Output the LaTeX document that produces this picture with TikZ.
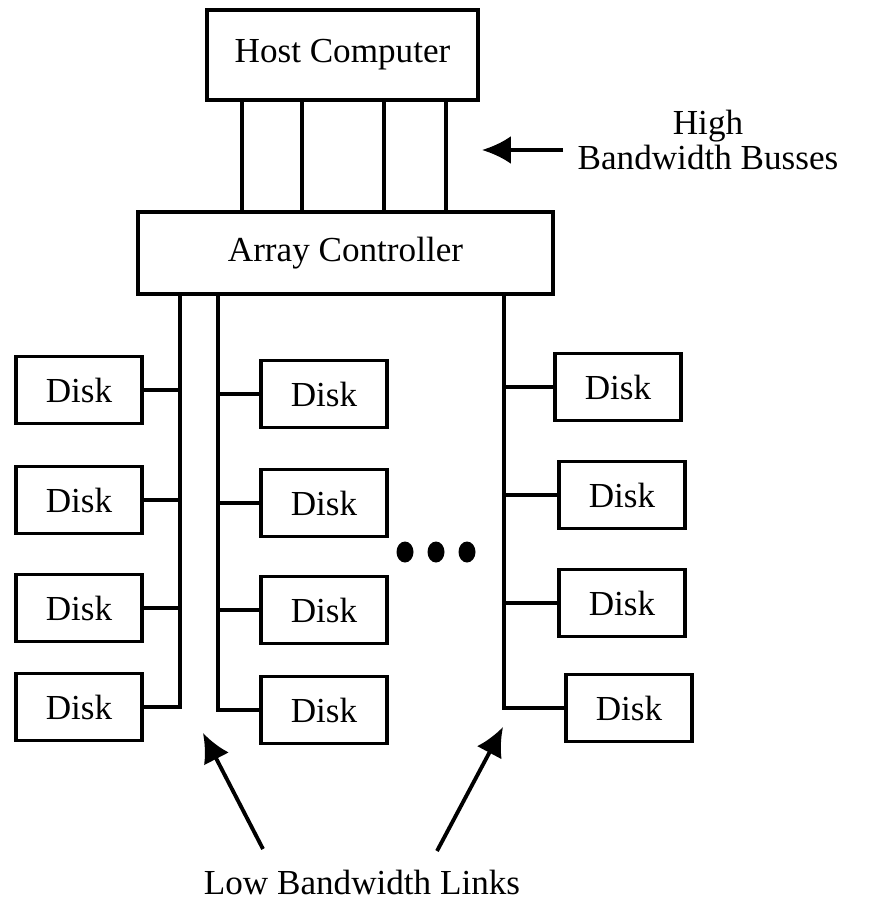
\documentclass[tikz,border=0pt]{standalone}
\usepackage{fontspec}
\setmainfont{Liberation Serif}
\usetikzlibrary{arrows.meta}

\tikzset{
    unit/.style={draw, line width=2.1pt, inner sep=0pt, minimum width=2.52cm, minimum height=1.34cm},
    link/.style={line width=2pt},
    pointer/.style={line width=2.2pt, -{Latex[length=0.58cm, width=0.56cm]}}
}

\begin{document}
\begin{tikzpicture}[x=0.02cm, y=-0.02cm, font=\fontsize{20}{19.5}\selectfont]
        \useasboundingbox (0,0) rectangle (875,903);

        \node[unit, minimum width=5.42cm, minimum height=1.8cm] (host) at (342.5,55) {Host Computer};
        \node[unit, minimum width=8.3cm, minimum height=1.64cm] (ctrl) at (345.5,253) {Array Controller};

        \foreach \x [count=\i] in {242, 302, 384, 446}
        {
            \coordinate (b\i) at (\x,0);
            \draw[link] (b\i |- host.south) -- (b\i |- ctrl.north);
        }

        \foreach \y [count=\i] in {390, 500, 608, 707}
            \node[unit] (ld\i) at (79,\y) {Disk};
        \foreach \y [count=\i] in {394, 503, 610, 710}
            \node[unit] (md\i) at (324,\y) {Disk};
        \foreach \x/\y [count=\i] in {618/387, 622/495, 622/603, 629/708}
            \node[unit] (rd\i) at (\x,\y) {Disk};

        \coordinate (lbus) at (180,0);
        \coordinate (mbus) at (218,0);
        \coordinate (rbus) at (504,0);
        \draw[link] (ctrl.south -| lbus) |- (ld4.east);
        \draw[link] (ctrl.south -| mbus) |- (md4.west);
        \draw[link] (ctrl.south -| rbus) |- (rd4.west);
        \foreach \i in {1,2,3}
        {
            \draw[link] (ld\i.east) -- (ld\i.east -| lbus);
            \draw[link] (md\i.west) -- (md\i.west -| mbus);
            \draw[link] (rd\i.west) -- (rd\i.west -| rbus);
        }

        \foreach \x in {405, 436, 467}
            \fill (\x,552) ellipse [x radius=0.17cm, y radius=0.21cm];

        \node[align=center] (high) at (708,140) {High\\Bandwidth Busses};
        \coordinate (hbtail) at (563,150);
        \coordinate (hbtip) at (482,150);
        \draw[pointer] (hbtail) -- (hbtip);

        \node[anchor=base] (low) at (362,894) {Low Bandwidth Links};
        \coordinate (ltail) at (263,849);
        \coordinate (ltip) at (203,733);
        \coordinate (rtail) at (437,851);
        \coordinate (rtip) at (503,727);
        \draw[pointer] (ltail) -- (ltip);
        \draw[pointer] (rtail) -- (rtip);
    \end{tikzpicture}
\end{document}
